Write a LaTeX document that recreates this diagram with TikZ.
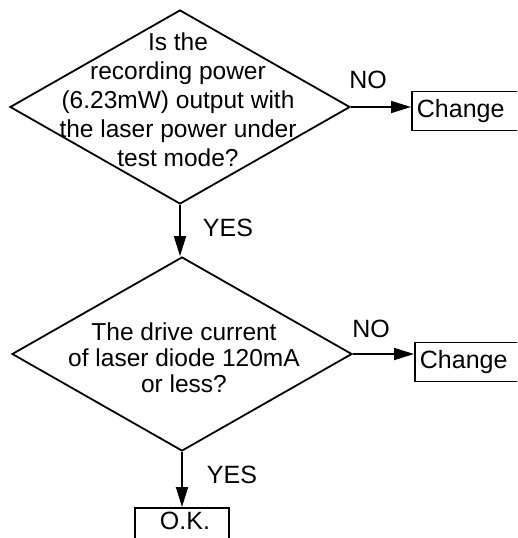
\documentclass[tikz,border=0pt]{standalone}
\usepackage{fontspec}
\setmainfont{Liberation Sans}
\usetikzlibrary{arrows.meta,shapes.geometric}

\begin{document}
\begin{tikzpicture}[x=1pt, y=-1pt,
  decision/.style={draw, shape=diamond, line width=1.8pt, minimum width=340pt, minimum height=194pt, inner sep=0pt},
  qtext/.style={align=center, inner sep=0pt},
  result/.style={draw, line width=1.8pt, font=\fontsize{25}{29}\selectfont, inner xsep=5pt, inner ysep=4pt},
  lbl/.style={font=\fontsize{25}{29}\selectfont},
  arr/.style={-{Triangle[length=20pt, width=12pt]}, line width=1.8pt},
]
\useasboundingbox (0,0) rectangle (517,538);
\clip (0,0) rectangle (517,538);

% FIRST CHECK
\node[decision] (d1) at (180, 107) {};
\node[qtext, font=\fontsize{24.5}{29}\selectfont] (q1) at (178, 100) {Is the\\recording power\\(6.23mW) output with\\the laser power under\\test mode?};
\node[result, anchor=west, text width=100pt, align=left, minimum height=39pt] (ch1) at (411, 111) {Change};
\node[lbl] (no1) at (368, 80) {NO};
\draw[arr] (d1.east) -- (d1.east -| ch1.west);

\node[decision] (d2) at (182, 354) {};
\draw[arr] (d1.south) -- (d1.south |- d2.north);
\node[lbl] (yes1) at (228, 228) {YES};

% SECOND CHECK
\node[qtext, font=\fontsize{24.5}{26}\selectfont] (q2) at (184, 358) {The drive current\\of laser diode 120mA\\or less?};
\node[result, anchor=west, text width=100pt, align=left, minimum height=39pt] (ch2) at (414, 362) {Change};
\node[lbl] (no2) at (371, 329) {NO};
\draw[arr] (d2.east) -- (d2.east -| ch2.west);

\node[result, anchor=north, minimum width=94pt, text depth=22pt] (ok) at (182, 507) {\hspace{6pt}O.K.};
\node[lbl] (yes2) at (232, 475) {YES};
\draw[arr] (d2.south) -- (ok.north);
\end{tikzpicture}
\end{document}
